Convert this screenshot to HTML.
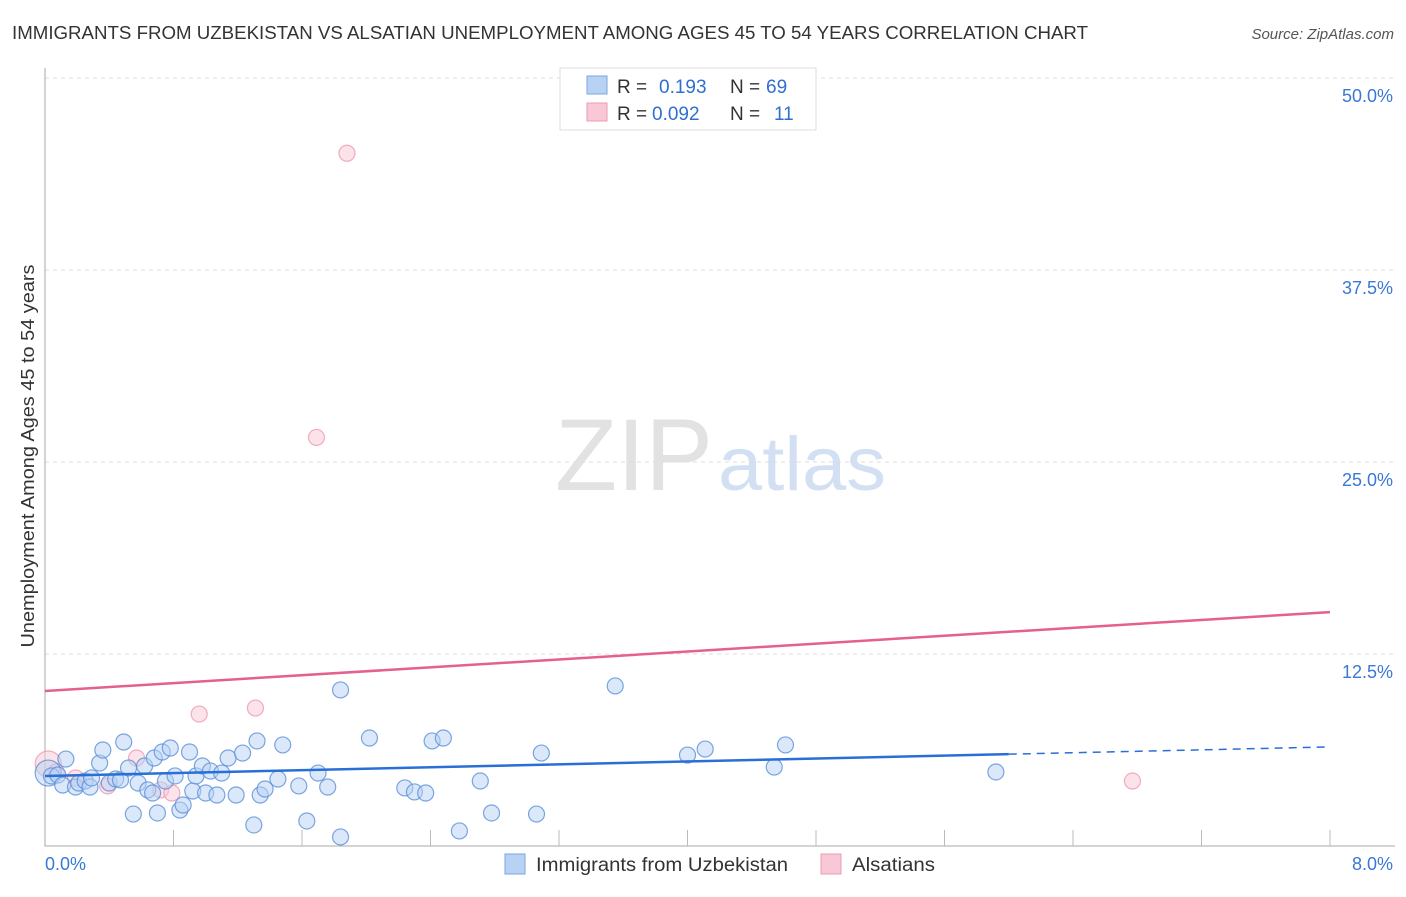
<!DOCTYPE html>
<html><head><meta charset="utf-8"><style>
body{margin:0;background:#fff;font-family:"Liberation Sans",sans-serif}
svg text{font-family:"Liberation Sans",sans-serif}
</style></head><body>
<svg id="c" width="1406" height="892" xmlns="http://www.w3.org/2000/svg">
<text x="12" y="39" font-size="18" fill="#333" textLength="1076" lengthAdjust="spacingAndGlyphs">IMMIGRANTS FROM UZBEKISTAN VS ALSATIAN UNEMPLOYMENT AMONG AGES 45 TO 54 YEARS CORRELATION CHART</text>
<text x="1394" y="39" font-size="15" fill="#555" font-style="italic" text-anchor="end">Source: ZipAtlas.com</text>
<text x="555" y="490" font-size="102" fill="#e2e2e2" font-family="Liberation Serif" textLength="158" lengthAdjust="spacingAndGlyphs">ZIP</text>
<text x="718" y="490" font-size="76" fill="#d3e0f3" textLength="168" lengthAdjust="spacingAndGlyphs">atlas</text>
<text transform="translate(34,456) rotate(-90)" font-size="18" fill="#333" text-anchor="middle" textLength="383" lengthAdjust="spacingAndGlyphs">Unemployment Among Ages 45 to 54 years</text>
<g id="grid"></g><g id="pts"></g><g id="lines"></g>
<g>
<rect x="560" y="68" width="256" height="62" fill="#fff" stroke="#ddd"/>
<rect x="587" y="76" width="20" height="18" fill="#b8d2f4" stroke="#7aa6e0"/>
<rect x="587" y="103" width="20" height="18" fill="#f9c8d6" stroke="#ec9ab2"/>
<text x="617" y="93" font-size="19" fill="#333">R =</text>
<text x="659" y="93" font-size="19" fill="#2f6fd1">0.193</text>
<text x="730" y="93" font-size="19" fill="#333">N =</text>
<text x="766" y="93" font-size="19" fill="#2f6fd1">69</text>
<text x="617" y="120" font-size="19" fill="#333">R =</text>
<text x="652" y="120" font-size="19" fill="#2f6fd1">0.092</text>
<text x="730" y="120" font-size="19" fill="#333">N =</text>
<text x="774" y="120" font-size="19" fill="#2f6fd1">11</text>
</g>
<text x="45" y="870" font-size="18" fill="#3a78d4">0.0%</text>
<text x="1393" y="870" font-size="18" fill="#3a78d4" text-anchor="end">8.0%</text>
<g>
<rect x="505" y="854" width="20" height="20" fill="#b8d2f4" stroke="#7aa6e0"/>
<text x="536" y="871" font-size="19" fill="#333" textLength="252" lengthAdjust="spacingAndGlyphs">Immigrants from Uzbekistan</text>
<rect x="821" y="854" width="20" height="20" fill="#f9c8d6" stroke="#ec9ab2"/>
<text x="852" y="871" font-size="19" fill="#333" textLength="83" lengthAdjust="spacingAndGlyphs">Alsatians</text>
</g>
</svg>
<script>
const blueX=[0.02,0.04,0.08,0.11,0.13,0.19,0.21,0.25,0.28,0.29,0.34,0.36,0.40,0.44,0.47,0.49,0.52,0.55,0.58,0.62,0.64,0.67,0.68,0.70,0.73,0.75,0.78,0.81,0.84,0.86,0.90,0.92,0.94,0.98,1.00,1.03,1.07,1.10,1.14,1.19,1.23,1.30,1.32,1.34,1.37,1.45,1.48,1.58,1.63,1.70,1.76,1.84,1.84,2.02,2.24,2.30,2.37,2.41,2.48,2.58,2.71,2.78,3.06,3.09,3.55,4.00,4.11,4.54,4.61,5.92];
const blueY=[4.75,4.56,4.62,3.97,5.66,3.84,4.10,4.23,3.84,4.43,5.40,6.25,4.10,4.36,4.30,6.77,5.08,2.08,4.10,5.21,3.65,3.45,5.73,2.15,6.12,4.23,6.38,4.56,2.34,2.67,6.12,3.58,4.56,5.21,3.45,4.88,3.32,4.75,5.73,3.32,6.05,1.37,6.84,3.32,3.71,4.36,6.58,3.91,1.63,4.75,3.84,0.59,10.16,7.03,3.78,3.52,3.45,6.84,7.03,0.98,4.23,2.15,2.08,6.05,10.42,5.92,6.31,5.14,6.58,4.82];
const pinkX=[0.02,0.07,0.19,0.39,0.57,0.72,0.79,0.96,1.31,1.69,1.88,6.77];
const pinkY=[5.34,4.82,4.43,3.91,5.73,3.65,3.45,8.59,8.98,26.6,45.1,4.23];
const yTicks=[12.5,25,37.5,50];
const blueTrend=[4.56,6.45];
const pinkTrend=[10.09,15.23];
const X0=45,X1=1330,Y0=846,YS=192/12.5;
const sx=v=>X0+(v/8)*(X1-X0), sy=v=>Y0-v*YS;
const NS="http://www.w3.org/2000/svg";
function mk(t,a,p){const e=document.createElementNS(NS,t);for(const k in a)e.setAttribute(k,a[k]);p.appendChild(e);return e;}
const g=document.getElementById('grid');
yTicks.forEach(t=>{
 const l=mk('line',{x1:X0,x2:1394,y1:sy(t),y2:sy(t),stroke:'#ddd','stroke-dasharray':'4,4'},g);
 
 
 const tx=mk('text',{x:1393,y:sy(t)+24,'font-size':18,fill:'#3a78d4','text-anchor':'end'},g);
 tx.textContent=t.toFixed(1)+'%';
 
 
});
const ax=mk('path',{d:`M${X0},68V${Y0}H${X1+65}`,stroke:'#aaa',fill:'none'},g);


for(let i=1;i<=10;i++){const t=mk('line',{x1:sx(i*0.8),x2:sx(i*0.8),y1:830,y2:Y0,stroke:'#bbb'},g);
 
 }
const p=document.getElementById('pts');
function dot(x,y,r,f,s,n){const c=mk('circle',{cx:sx(x),cy:sy(y),r:r,fill:f,'fill-opacity':0.5,stroke:s,'stroke-opacity':0.8,'stroke-width':1.2},p);
 
 }
pinkX.forEach((x,i)=>dot(x,pinkY[i],i==0?13:8,'#f9c8d6','#ec9ab2','alsatian-point'));
blueX.forEach((x,i)=>dot(x,blueY[i],i==0?13:8,'#b8d2f4','#5a90da','uzbekistan-point'));
const L=document.getElementById('lines');
const bAt=v=>blueTrend[0]+(blueTrend[1]-blueTrend[0])*v/8;
const bl=mk('line',{x1:sx(0),y1:sy(bAt(0)),x2:sx(6.0),y2:sy(bAt(6.0)),stroke:'#2a6fd6','stroke-width':2.5},L);


const bd=mk('line',{x1:sx(6.0),y1:sy(bAt(6.0)),x2:sx(8),y2:sy(bAt(8)),stroke:'#2a6fd6','stroke-width':1.5,'stroke-dasharray':'8,6'},L);


const pl=mk('line',{x1:sx(0),y1:sy(pinkTrend[0]),x2:sx(8),y2:sy(pinkTrend[1]),stroke:'#e5608a','stroke-width':2.5},L);


</script>
</body></html>
